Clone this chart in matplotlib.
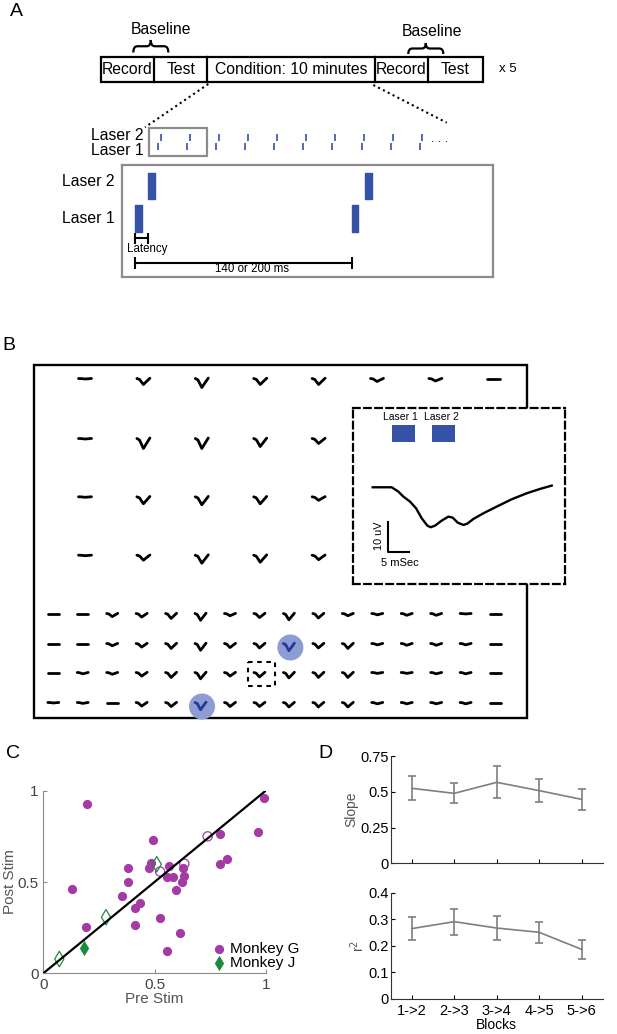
import numpy as np
import matplotlib.pyplot as plt
from matplotlib.patches import Rectangle, Circle, PathPatch
from matplotlib.path import Path

plt.rcParams['font.family'] = ['Liberation Sans', 'DejaVu Sans']

W, H = 617, 1034

# ---------------- data ----------------
# A: session timeline and pulse protocol
segments = ['Record', 'Test', 'Condition: 10 minutes', 'Record', 'Test']
n_pulses = 10          # pulse pairs shown in the conditioning train
period_ms = 200.0      # pulse-pair period
latency_ms = 12.3      # laser 1 -> laser 2 delay
pulse_ms = 6.3         # pulse duration

# B: depth of evoked response per electrode (0 = flat, 1 = deepest)
coarse_amp = [
    [0.05, 0.6, 0.9, 0.6, 0.6, 0.3, 0.25, 0.0],
    [0.05, 1.0, 1.0, 0.8, 0.5],
    [0.05, 0.7, 0.8, 0.7, 0.35],
    [0.05, 0.5, 0.8, 0.7, 0.45],
]
fine_amp = [
    [0, 0, .35, .4, .55, .75, .25, .45, .7, .5, .25, .15, .2, .2, .05, 0],
    [0, 0, .25, .4, .55, .75, .45, .5, .8, .5, .55, .15, .2, .2, .15, 0],
    [0, .15, .2, .4, .55, .7, .4, .5, .6, .55, .55, .1, .1, .15, .15, 0],
    [.05, .1, 0, .4, .45, .8, .45, .45, .5, .5, .5, .15, .15, .15, .15, 0],
]
stim_sites = [(1, 8), (3, 5)]   # (row, col) in fine grid
rec_site = (2, 7)
trace_ms = [0, 4.59, 6.20, 7.41, 9.02, 10.47, 11.84, 13.20, 14.01, 15.06, 16.67,
            18.28, 19.32, 20.53, 21.90, 22.87, 24.32, 26.73, 29.95, 33.57, 37.20,
            40.42, 43.24]
trace_uv = [0, 0, -1.42, -3.05, -4.68, -6.86, -10.13, -12.53, -13.07, -12.53, -10.89,
            -9.59, -9.91, -11.55, -12.31, -11.87, -10.35, -8.50, -6.32, -3.92, -1.96,
            -0.54, 0.54]
laser_on_ms = [4.7, 14.4]
laser_dur_ms = 5.4

# C: pre vs post stim
pre_g = [0.198, 0.127, 0.192, 0.495, 0.382, 0.382, 0.355, 0.435, 0.414, 0.414,
         0.477, 0.483, 0.525, 0.556, 0.564, 0.556, 0.585, 0.597, 0.622, 0.627,
         0.631, 0.615, 0.795, 0.796, 0.828, 0.964, 0.993]
post_g = [0.929, 0.464, 0.252, 0.730, 0.575, 0.500, 0.422, 0.385, 0.358, 0.266,
          0.577, 0.602, 0.305, 0.122, 0.589, 0.529, 0.529, 0.454, 0.502, 0.575,
          0.533, 0.221, 0.761, 0.599, 0.624, 0.772, 0.960]
pre_g_open = [0.739, 0.525, 0.634]
post_g_open = [0.750, 0.557, 0.600]
pre_j_open = [0.072, 0.282, 0.510]
post_j_open = [0.078, 0.307, 0.597]
pre_j = [0.181]
post_j = [0.139]

# D: per block transition
blocks = ['1->2', '2->3', '3->4', '4->5', '5->6']
slope = [0.524, 0.489, 0.566, 0.508, 0.447]
slope_err = [0.084, 0.069, 0.112, 0.078, 0.073]
r2 = [0.265, 0.291, 0.267, 0.251, 0.187]
r2_err = [0.044, 0.049, 0.046, 0.039, 0.036]

BLUE = '#3652a6'
CIRC = '#8e9cd4'
DARKBLUE = '#24389a'
PURPLE = '#a43aa6'
GREEN = '#1c8a3e'
GRAYBOX = '#8c8c8c'


def fig_rect(x0, y0, x1, y1):
    return [x0 / W, 1 - y1 / H, (x1 - x0) / W, (y1 - y0) / H]


fig = plt.figure(figsize=(W / 100, H / 100), dpi=100)
ax = fig.add_axes([0, 0, 1, 1])
ax.set_xlim(0, W)
ax.set_ylim(H, 0)
ax.axis('off')

# panel letters
for lab, x, y in [('A', 16, 11), ('B', 9, 345), ('C', 13, 753), ('D', 325, 753)]:
    ax.text(x, y, lab, ha='center', va='center', fontsize=14)

# ---------------- A ----------------
edges = [100.7, 154.3, 207.3, 375.0, 427.7, 482.7]
bt, bb = 56.7, 81.7
ax.add_patch(Rectangle((edges[0], bt), edges[-1] - edges[0], bb - bt,
                       fill=False, ec='k', lw=1.6))
for e in edges[1:-1]:
    ax.plot([e, e], [bt, bb], 'k', lw=1.6)
for lab, a, b in zip(segments, edges[:-1], edges[1:]):
    ax.text((a + b) / 2, 69.5, lab, ha='center', va='center', fontsize=11.3)
ax.text(508, 69, 'x 5', ha='center', va='center', fontsize=9.5)


def brace(x0, x1, yb, yt):
    xm = (x0 + x1) / 2
    yh = yb - (yb - yt) * 0.5
    verts = [(x0, yb), (x0, yh), (x0 + 4, yh),
             (xm - 4, yh), (xm, yh), (xm, yt),
             (xm, yh), (xm + 4, yh),
             (x1 - 4, yh), (x1, yh), (x1, yb)]
    codes = [Path.MOVETO, Path.CURVE3, Path.CURVE3,
             Path.LINETO, Path.CURVE3, Path.CURVE3,
             Path.CURVE3, Path.CURVE3,
             Path.LINETO, Path.CURVE3, Path.CURVE3]
    ax.add_patch(PathPatch(Path(verts, codes), fill=False, lw=1.6, ec='k'))


brace(133.3, 168.3, 52.5, 40)
brace(408.3, 443.3, 54, 43)
ax.text(160.7, 29, 'Baseline', ha='center', va='center', fontsize=11.3)
ax.text(431.7, 32, 'Baseline', ha='center', va='center', fontsize=11.3)

# zoom lines
ax.plot([208.3, 145], [84, 127.3], 'k', lw=1.5, ls=(0, (1, 1.6)))
ax.plot([373.3, 446.7], [85, 122.7], 'k', lw=1.5, ls=(0, (1, 1.6)))

# pulse train
ax.text(143.3, 135, 'Laser 2', ha='right', va='center', fontsize=11.3)
ax.text(143.3, 150.7, 'Laser 1', ha='right', va='center', fontsize=11.3)
ax.add_patch(Rectangle((148.7, 128.3), 58.6, 27.7, fill=False, ec=GRAYBOX, lw=1.6))
train_x = 158.3 + 29.03 * np.arange(n_pulses)
ax.vlines(train_x, 143.3, 150, color=BLUE, lw=1.2)
ax.vlines(train_x + 2.7, 134.3, 141, color=BLUE, lw=1.2)
ax.text(440, 139.5, '. . .', ha='center', va='center', fontsize=9)

# zoomed pulse box
ax.text(115, 181, 'Laser 2', ha='right', va='center', fontsize=11.3)
ax.text(115, 218.3, 'Laser 1', ha='right', va='center', fontsize=11.3)
axb = fig.add_axes(fig_rect(121.7, 165, 492.7, 277.3))
axb.set_xlim(-12.3, 330.3)
axb.set_ylim(277.3, 165)
axb.set_xticks([])
axb.set_yticks([])
for s in axb.spines.values():
    s.set_color(GRAYBOX)
    s.set_linewidth(1.6)
onsets = [0, period_ms]
axb.broken_barh([(t, pulse_ms) for t in onsets], (205.3, 26.4), color=BLUE)
axb.broken_barh([(t + latency_ms, pulse_ms) for t in onsets], (172.7, 26.6), color=BLUE)
axb.plot([0, latency_ms], [238.3, 238.3], 'k', lw=1.5)
axb.vlines([0, latency_ms], 232.7, 244.3, color='k', lw=1.5)
axb.text(latency_ms * 0.9, 249.3, 'Latency', ha='center', va='center', fontsize=8.3)
axb.plot([0, period_ms], [263.3, 263.3], 'k', lw=1.5)
axb.vlines([0, period_ms], 257.5, 269.5, color='k', lw=1.5)
axb.text(period_ms * 0.54, 269.3, '140 or 200 ms', ha='center', va='center', fontsize=8.3)

# ---------------- B ----------------
ax.add_patch(Rectangle((34, 365), 492.7, 353, fill=False, ec='k', lw=1.7))

glyph_x = np.array([0.0, 0.2, 0.5, 1.0])
glyph_y = np.array([0.0, 0.15, 1.0, -0.05])


def glyph(xc, yb, amp, w, dmax, color='k'):
    ax.plot(xc - w / 2 + glyph_x * w, yb + amp * dmax * glyph_y, color=color,
            lw=2.0, solid_joinstyle='round', solid_capstyle='round', zorder=3)


coarse_rows = [380, 440, 498.3, 556.7]
for r, row in enumerate(coarse_amp):
    for c, a in enumerate(row):
        glyph(85 + 58.4 * c, coarse_rows[r] - 1.5, a, 13, 10)

fine_rows = [615, 645, 674, 704]
for r, row in enumerate(fine_amp):
    for c, a in enumerate(row):
        cx = 53.3 + 29.45 * c
        if (r, c) in stim_sites:
            ax.add_patch(Circle((cx + 1.5, fine_rows[r] + 2.5), 13, color=CIRC, lw=0, zorder=2))
            glyph(cx, fine_rows[r] - 1.5, a, 11, 9, DARKBLUE)
        else:
            glyph(cx, fine_rows[r] - 1.5, a, 11, 9)
rcx = 53.3 + 29.45 * rec_site[1]
rcy = fine_rows[rec_site[0]]
ax.add_patch(Rectangle((rcx - 11.2, rcy - 12.3), 26.7, 24.3, fill=False, ec='k',
                       lw=1.5, ls=(0, (2.2, 2.2))))

# inset with mean response
axi = fig.add_axes(fig_rect(352.7, 407.7, 565, 584.3))
axi.set_xlim(-4.83, 46.45)
axi.set_ylim(-31.7, 26.0)
axi.set_xticks([])
axi.set_yticks([])
for s in axi.spines.values():
    s.set_linestyle((0, (3, 2)))
    s.set_linewidth(1.6)
axi.plot(trace_ms, trace_uv, 'k', lw=1.7)
for t, lab in zip(laser_on_ms, ['Laser 1', 'Laser 2']):
    axi.add_patch(Rectangle((t, 14.7), laser_dur_ms, 5.7, color=BLUE, lw=0))
    axi.text(t + laser_dur_ms / 2 - 0.6, 23.1, lab, ha='center', va='center', fontsize=7.5)
axi.plot([3.77, 3.77, 8.77], [-11.24, -21.24, -21.24], 'k', lw=1.5)
axi.text(1.6, -16.0, '10 uV', rotation=90, ha='center', va='center', fontsize=7.8)
axi.text(6.6, -24.8, '5 mSec', ha='center', va='center', fontsize=8)

# ---------------- C ----------------
axc = fig.add_axes(fig_rect(43.3, 790.7, 265.7, 973.3))
axc.plot([0, 1], [0, 1], 'k', lw=1.6, zorder=4)
axc.scatter(pre_g, post_g, s=44, color=PURPLE, lw=0, zorder=3, clip_on=False, label='Monkey G')
axc.scatter(pre_g_open, post_g_open, s=44, facecolors='none', edgecolors=PURPLE, lw=0.9, zorder=3)
axc.scatter(pre_j_open, post_j_open, s=62, marker='d', facecolors='none', edgecolors=GREEN,
            lw=0.9, zorder=3, clip_on=False)
axc.scatter(pre_j, post_j, s=62, marker='d', color=GREEN, lw=0, zorder=3, label='Monkey J')
axc.set_xlim(0, 1)
axc.set_ylim(0, 1)
axc.set_xticks([0, 0.5, 1])
axc.set_xticklabels(['0', '0.5', '1'])
axc.set_yticks([0, 0.5, 1])
axc.set_yticklabels(['0', '0.5', '1'])
axc.set_xlabel('Pre Stim', fontsize=11, color='#555555', labelpad=0)
axc.set_ylabel('Post Stim', fontsize=11, color='#555555', labelpad=0)
axc.legend(loc='lower right', bbox_to_anchor=(1.15, 0.02), frameon=False, fontsize=11,
           handletextpad=0.1, labelspacing=0.0, borderpad=0, borderaxespad=0,
           handlelength=1.2, scatterpoints=1)
for sp in ['top', 'right']:
    axc.spines[sp].set_visible(False)
for sp in ['left', 'bottom']:
    axc.spines[sp].set_color('#8a8a8a')
axc.tick_params(direction='in', length=3, color='#8a8a8a', labelsize=11, labelcolor='#444444')

# ---------------- D ----------------
xpos = np.arange(1, len(blocks) + 1)
axd1 = fig.add_axes(fig_rect(390.7, 756, 602.7, 863.3))
axd2 = fig.add_axes(fig_rect(390.7, 892.7, 602.7, 999))
for a, vals, errs, top, yt, ytl, lbl in [
        (axd1, slope, slope_err, 0.75, [0, 0.25, 0.5, 0.75], ['0', '0.25', '0.5', '0.75'], 'Slope'),
        (axd2, r2, r2_err, 0.4, [0, 0.1, 0.2, 0.3, 0.4], ['0', '0.1', '0.2', '0.3', '0.4'], 'r$^2$')]:
    a.errorbar(xpos, vals, yerr=errs, color='#7f7f7f', lw=1.2, elinewidth=1.2,
               capsize=3, capthick=1.2)
    a.set_xlim(0.5, 5.5)
    a.set_ylim(0, top)
    a.set_yticks(yt)
    a.set_yticklabels(ytl)
    a.set_xticks(xpos)
    a.set_ylabel(lbl, fontsize=10, color='#555555', labelpad=1)
    for sp in ['top', 'right']:
        a.spines[sp].set_visible(False)
    for sp in ['left', 'bottom']:
        a.spines[sp].set_color('#333333')
    a.tick_params(direction='in', length=3, labelsize=10.5, pad=1.5)
axd1.set_xticklabels([])
axd2.set_xticklabels(blocks)
axd2.tick_params(axis='x', pad=3.5)
axd2.set_xlabel('Blocks', fontsize=10, labelpad=0)

fig.savefig('out.png', dpi=100)
